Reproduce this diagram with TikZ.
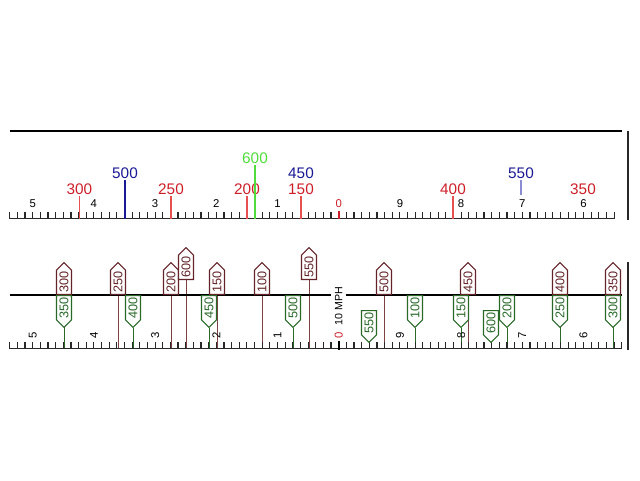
\documentclass[tikz,border=0pt]{standalone}
\usepackage{fontspec}
\setmainfont{Liberation Sans}
\usetikzlibrary{shapes.symbols}
\pgfdeclarelayer{background}
\pgfsetlayers{background,main}

\definecolor{valred}{RGB}{205,30,40}
\definecolor{linered}{RGB}{232,80,80}
\definecolor{valblue}{RGB}{25,25,150}
\definecolor{paleblue}{RGB}{140,140,210}
\definecolor{valgreen}{RGB}{80,220,60}
\definecolor{tagbrown}{RGB}{100,35,40}
\definecolor{tagline}{RGB}{125,65,65}
\definecolor{taggreen}{RGB}{40,105,40}
\definecolor{scalegray}{RGB}{40,40,40}

\tikzset{
  tagbase/.style={signal, rotate=90, fill=white, font=\fontsize{9.5}{9.5}\selectfont,
    inner xsep=1.2pt, inner ysep=0pt, minimum height=11.25pt},
  uptag/.style={tagbase, signal to=east, draw=tagbrown, text=tagbrown, anchor=west},
  downtag/.style={tagbase, signal to=west, draw=taggreen, text=taggreen, anchor=east},
  vallabel/.style={font=\fontsize{11.5}{11.5}\selectfont, inner sep=1pt},
  digit/.style={font=\fontsize{8.5}{8.5}\selectfont, inner sep=0.5pt},
}

\begin{document}
\begin{tikzpicture}[
      x=0.75pt, y=-0.75pt,
      line width=0.85pt,
      ]
      \useasboundingbox (0,0) rectangle (640,480);

      % upper scale
      \coordinate (topbase) at (0,218.5);
      \draw (10,131) -- (622,131);
      \draw[scalegray] (628,131) -- (628,220);
      \draw[scalegray] (10,218.5) -- (614,218.5);
      \foreach \k in {-43,...,36}
        \draw[scalegray] ({338.7+7.65*\k},212) -- ++(0,6.5);
      \draw[valred, line width=1.6pt] (338.7,211) -- (338.7,219);

      \foreach \u/\d in {-5/5,-4/4,-3/3,-2/2,-1/1,1/9,2/8,3/7,4/6}
        \node[digit] (top\d) at ({338.7+61.2*\u},204) {\d};
      \node[digit, text=valred] (top0) at (338.7,204) {0};

      \node[vallabel, text=valred] (t300) at (79.3,189) {300};
      \node[vallabel, text=valred] (t250) at (171,189) {250};
      \node[vallabel, text=valred] (t200) at (247,189) {200};
      \node[vallabel, text=valred] (t150) at (301,189) {150};
      \node[vallabel, text=valred] (t400) at (453,189) {400};
      \node[vallabel, text=valred] (t350) at (583,189) {350};
      \node[vallabel, text=valblue] (t500) at (125,173) {500};
      \node[vallabel, text=valblue] (t450) at (301,173) {450};
      \node[vallabel, text=valblue] (t550) at (521,173) {550};
      \node[vallabel, text=valgreen] (t600) at (255,158) {600};

      \foreach \v in {300,250,200,150,400}
        \draw[linered] (t\v.south) -- (t\v.south |- topbase);
      \draw[valblue] (t500.south) -- (t500.south |- topbase);
      \draw[paleblue] (t550.south) -- ++(0,15);
      \draw[valgreen] (t600.south) -- (t600.south |- topbase);

      % lower scale
      \coordinate (botbase) at (0,348.5);
      \draw (10,295) -- (622,295);
      \draw[scalegray] (628,262) -- (628,350);
      \draw[scalegray] (10,348.5) -- (622,348.5);
      \foreach \k in {-43,...,37}
        \draw[scalegray] ({338.7+7.65*\k},342) -- ++(0,6.5);
      \draw[line width=1.6pt] (338.7,341) -- (338.7,350);

      \foreach \u/\d in {-5/5,-4/4,-3/3,-2/2,-1/1,1/9,2/8,3/7,4/6}
        \node[digit, rotate=90] (bot\d) at ({338.7+61.2*\u},335.5) {\d};
      \node[digit, rotate=90, text=valred] (bot0) at (338.7,335.5) {0};
      \node[rotate=90, fill=white, inner xsep=1pt, inner ysep=2.8pt,
        font=\fontsize{8}{8}\selectfont] (mph) at (338.7,306) {10 MPH};

      \foreach \v/\x in {300/64,250/118,200/171,150/217,100/262,500/384,450/468,400/560,350/613}
        \node[uptag] (b\v) at (\x,295) {\v};
      \node[uptag] (b600) at (186,280) {600};
      \node[uptag] (b550) at (309,280) {550};

      \foreach \v/\x in {350/64,400/133,450/209,500/293,100/415,150/461,200/507,250/560,300/613}
        \node[downtag] (g\v) at (\x,295) {\v};
      \node[downtag] (g550) at (369,310) {550};
      \node[downtag] (g600) at (491,310) {600};

      \begin{pgfonlayer}{background}
        \foreach \v in {300,250,200,150,100,500,450,400,350,600,550}
          \draw[tagline] (b\v.west) -- (b\v.west |- botbase);
        \foreach \v in {350,400,450,500,100,150,200,250,300,550,600}
          \draw[taggreen] (g\v.west) -- (g\v.west |- botbase);
      \end{pgfonlayer}

    \end{tikzpicture}
\end{document}
